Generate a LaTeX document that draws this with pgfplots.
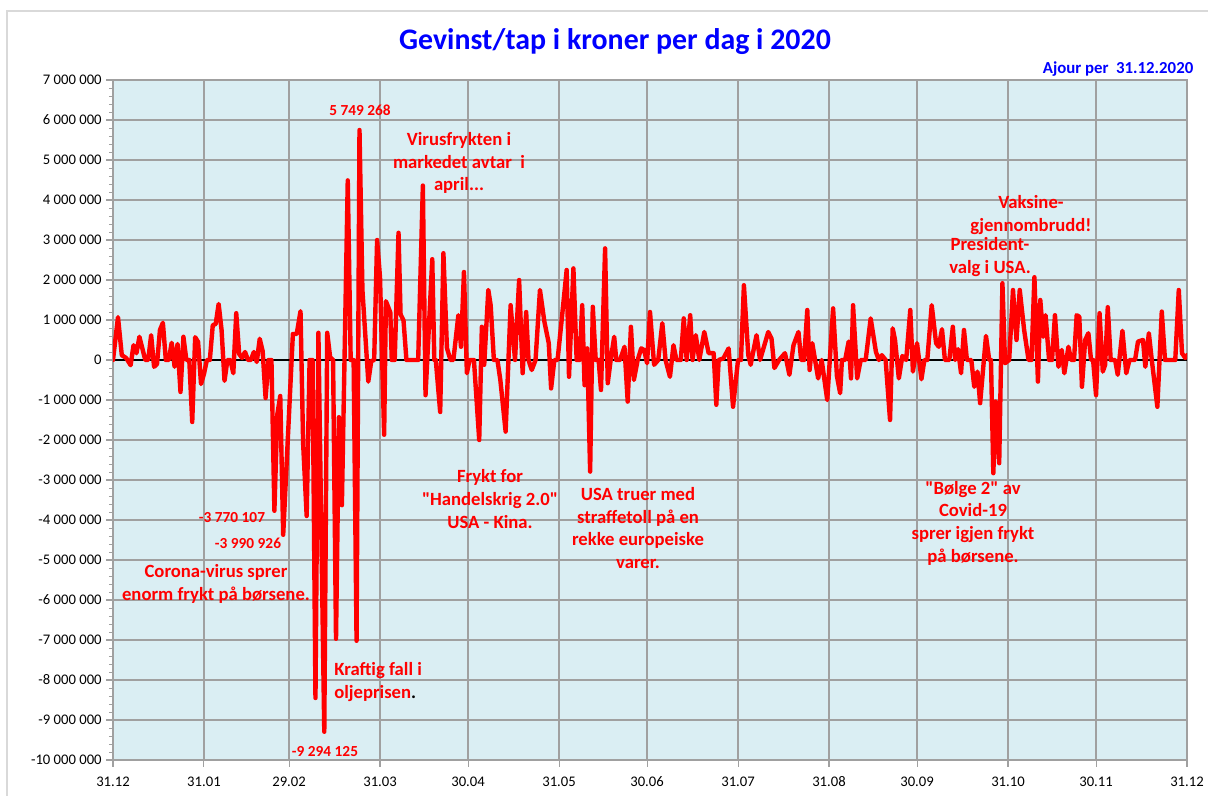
\documentclass[border=0pt]{standalone}
\usepackage{fontspec}
\setmainfont{Carlito}[Ligatures=TeXOff]
\usepackage{pgfplots}
\pgfplotsset{compat=1.18}
\definecolor{bgblue}{HTML}{DAEEF3}
\definecolor{gridgray}{HTML}{A0A0A0}
\definecolor{bordergray}{HTML}{D9D9D9}
\definecolor{xlred}{HTML}{FF0000}
\definecolor{xlblue}{HTML}{0000FF}
\newcommand{\pxc}[2]{({(#1-113)*0.75pt},{(760-#2)*0.75pt})}
\begin{document}
\begin{tikzpicture}
\begin{axis}[
  at={(0,0)}, anchor=south west,
  scale only axis, width=805.5pt, height=510pt,
  xmin=0, xmax=366, ymin=-10000000, ymax=7000000,
  axis background/.style={fill=bgblue},
  scaled y ticks=false, scaled x ticks=false,
  xtick={0,31,60,91,121,152,182,213,244,274,305,335,366},
  xticklabels={31.12,31.01,29.02,31.03,30.04,31.05,30.06,31.07,31.08,30.09,31.10,30.11,31.12},
  ytick={-10000000,-9000000,-8000000,-7000000,-6000000,-5000000,-4000000,-3000000,-2000000,-1000000,0,1000000,2000000,3000000,4000000,5000000,6000000,7000000},
  yticklabels={-10 000 000,-9 000 000,-8 000 000,-7 000 000,-6 000 000,-5 000 000,-4 000 000,-3 000 000,-2 000 000,-1 000 000,0,1 000 000,2 000 000,3 000 000,4 000 000,5 000 000,6 000 000,7 000 000},
  minor y tick num=4,
  tick pos=left,
  grid=major,
  major grid style={gridgray, line width=1.2pt},
  axis line style={gridgray, line width=1.2pt},
  tick align=outside,
  major tick length=5pt, minor tick length=3pt,
  every tick/.style={gridgray, line width=0.8pt},
  every minor tick/.style={gridgray, line width=0.6pt},
  xticklabel style={font=\fontsize{11}{13}\selectfont, yshift=-4pt},
  yticklabel style={font=\fontsize{11}{13}\selectfont},
  clip=true,
]
\addplot[black, line width=0.8pt] coordinates {(0,0) (366,0)};
\addplot[xlred, line width=3.3pt, line join=round, line cap=round] coordinates {
(0,0) (1.7,1070000) (3,120000) (4.5,50000) (6,-130000) (7,370000) (8,170000) (9,580000)
(11,0) (12,0) (13,620000) (14,-170000) (15,-100000) (16,750000) (17,930000) (18,0) (19,0)
(20,430000) (21,-170000) (22,400000) (23,-800000) (24,580000) (25,0) (26,0) (27,-1550000)
(28,570000) (29,450000) (30,-600000) (31,-350000) (32,0) (33,0) (34,870000) (35,900000)
(36,1400000) (37,750000) (38,-520000) (39,0) (40,0) (41,-330000) (42,1170000) (43,150000)
(44,50000) (45,200000) (46,0) (47,0) (48,200000) (49,-50000) (50,530000) (51,220000)
(52,-950000) (53,0) (54,0) (55,-3770107) (56,-1360000) (57,-900000) (58,-4370000)
(61.3,650000) (62.6,650000) (63.9,1220000) (64.8,-2100000) (66,-3900000) (67,0) (68,0)
(69,-8450000) (70,680000) (72,-9294125) (73,680000) (74,70000) (75,0) (76,-6970000)
(77,-1430000) (78,-3630000) (80,4490000) (81,0) (82,0) (83,-7020000) (84,5749268)
(85,1750000) (87,-540000) (88,-30000) (89,0) (90,3000000) (91,2060000) (92.4,-1870000)
(93,1470000) (94.5,1190000) (95,0) (96,0) (97.3,3180000) (98,1140000) (99,990000) (100,0)
(104,0) (105.6,4360000) (106.5,-880000) (108.8,2520000) (109.5,0) (110,0) (111.5,-1300000)
(112.6,2670000) (113.8,300000) (115,0) (116,0) (117.7,1120000) (118.6,330000) (119.6,2200000)
(120.6,-330000) (121.5,0) (123,0) (124.8,-2000000) (125.7,830000) (126.5,-120000)
(127.9,1750000) (128.7,1370000) (129.8,0) (131,0) (132,-500000) (133.8,-1790000)
(135.5,1370000) (137,0) (138.4,2000000) (139.6,-330000) (140.8,1200000) (141.6,0)
(142.7,-250000) (144,0) (145.5,1750000) (147,960000) (148.5,420000) (149.3,-710000)
(150.4,0) (151.5,0) (152.9,1000000) (154.6,2250000) (155.4,-420000) (156.9,2290000)
(158,0) (159,0) (159.9,1370000) (160.7,-630000) (161.6,290000) (162.6,-2790000)
(163.5,1330000) (164.5,0) (165.5,0) (166.3,-750000) (167.7,2790000) (168.6,-580000)
(169.6,0) (170.8,580000) (171.5,0) (172.8,0) (174.3,330000) (175.4,-1040000) (176.5,830000)
(177.5,-500000) (178.8,0) (180,290000) (181,250000) (182,-80000) (183,1200000)
(184.4,-120000) (185.8,0) (187.2,920000) (188.3,0) (189.8,-420000) (191,370000) (192,0)
(193.5,0) (194.5,1040000) (195.5,0) (196.7,1120000) (197.5,0) (198.6,620000) (199.8,0)
(201.5,700000) (203,170000) (204.7,170000) (205.6,-1120000) (206.4,0) (208,40000)
(209.8,290000) (211.3,-1170000) (213,0) (214,0) (215,1870000) (216.5,120000) (217.3,-120000)
(219.3,620000) (220.5,0) (223.3,700000) (224.4,540000) (225.4,-200000) (227,0) (229,170000)
(230.5,-370000) (231.9,370000) (233.6,700000) (234.5,0) (235.5,0) (236.6,1250000)
(237.4,-250000) (238.3,420000) (240.3,-460000) (241.5,0) (243.4,-1000000) (245.4,1290000)
(246.7,-400000) (247.8,-830000) (248.4,0) (249.5,0) (250.7,460000) (251.5,-460000)
(252.2,1370000) (253.6,-460000) (254.8,0) (256.5,0) (258.2,1040000) (260,200000) (261,0)
(262,120000) (263.3,0) (264.8,-1500000) (265.7,790000) (266.5,500000) (267.8,-460000)
(269,100000) (270.3,0) (271.7,1250000) (272.6,-290000) (274,420000) (275.5,-480000)
(276.5,0) (277.5,0) (279,1370000) (280.5,420000) (281.4,330000) (282.5,770000) (283.5,0)
(285,0) (286.2,830000) (287,0) (288,270000) (289,-330000) (290,750000) (291,0) (292.5,0)
(293.5,-670000) (294.6,-290000) (295.5,-1080000) (297.5,600000) (298.6,0) (299.2,0)
(300,-2830000) (300.8,-1040000) (302,-2580000) (303.1,1920000) (304,-80000) (305.4,0)
(306.7,1750000) (307.9,500000) (309,1750000) (310.5,750000) (312,0) (313,0) (314,2070000)
(315.2,-540000) (316,1500000) (317,580000) (317.8,1120000) (319,0) (320,0) (321,1120000)
(322.2,-170000) (323.3,250000) (324.2,-330000) (325.6,330000) (326.5,0) (327.5,0)
(328.4,1120000) (329.3,1080000) (330.2,-670000) (331.3,500000) (332.4,670000) (333.3,0)
(334,0) (335,-880000) (336.2,1170000) (337.3,-290000) (338.1,-120000) (339,1320000)
(340,0) (341.5,0) (342.4,-370000) (344,730000) (345.3,-330000) (346.4,0) (348.3,0)
(349.3,460000) (351,500000) (351.8,-170000) (353,670000) (354,0) (355.9,-1170000)
(357.4,1210000) (358.5,0) (360.5,0) (362,0) (363.2,1750000) (364.3,170000) (365.4,50000)
(366,120000)
};
\end{axis}
% outer chart border
\draw[bordergray, line width=0.8pt] \pxc{1230}{11} -- \pxc{7}{11} -- \pxc{7}{820};
% titles
\node[xlblue, font=\fontsize{22.4}{26}\selectfont\bfseries] at \pxc{615}{42} {Gevinst/tap i kroner per dag i 2020};
\node[xlblue, anchor=east, font=\fontsize{12.6}{14}\selectfont\bfseries] at \pxc{1198}{69} {Ajour per\ \ 31.12.2020};
% annotations
\begin{scope}[every node/.style={xlred, align=center, font=\fontsize{14}{17}\selectfont\bfseries, inner sep=0pt}]
\node[font=\fontsize{11.5}{13}\selectfont\bfseries] at \pxc{360}{110} {5 749 268};
\node at \pxc{459}{163} {Virusfrykten i\\markedet avtar\ \ i\\april...};
\node[font=\fontsize{11.5}{13}\selectfont\bfseries] at \pxc{232}{518} {-3 770 107};
\node[font=\fontsize{11.5}{13}\selectfont\bfseries] at \pxc{248}{543} {-3 990 926};
\node at \pxc{216}{584} {Corona-virus sprer\\enorm frykt på børsene.};
\node[anchor=west, align=left] at \pxc{334}{682} {Kraftig fall i\\oljeprisen{\color{black}.}};
\node[font=\fontsize{11.5}{13}\selectfont\bfseries] at \pxc{325}{752} {-9 294 125};
\node at \pxc{490}{499} {Frykt for\\"Handelskrig 2.0"\\USA - Kina.};
\node at \pxc{638}{528} {USA truer med\\straffetoll på en\\rekke europeiske\\varer.};
\node at \pxc{1031}{215} {Vaksine-\\gjennombrudd!};
\node at \pxc{990}{257} {President-\\valg i USA.};
\node at \pxc{973}{523} {"Bølge 2" av\\Covid-19\\sprer igjen frykt\\på børsene.};
\end{scope}
\pgfresetboundingbox
\path \pxc{0}{0} rectangle \pxc{1208}{796};
\end{tikzpicture}
\end{document}
